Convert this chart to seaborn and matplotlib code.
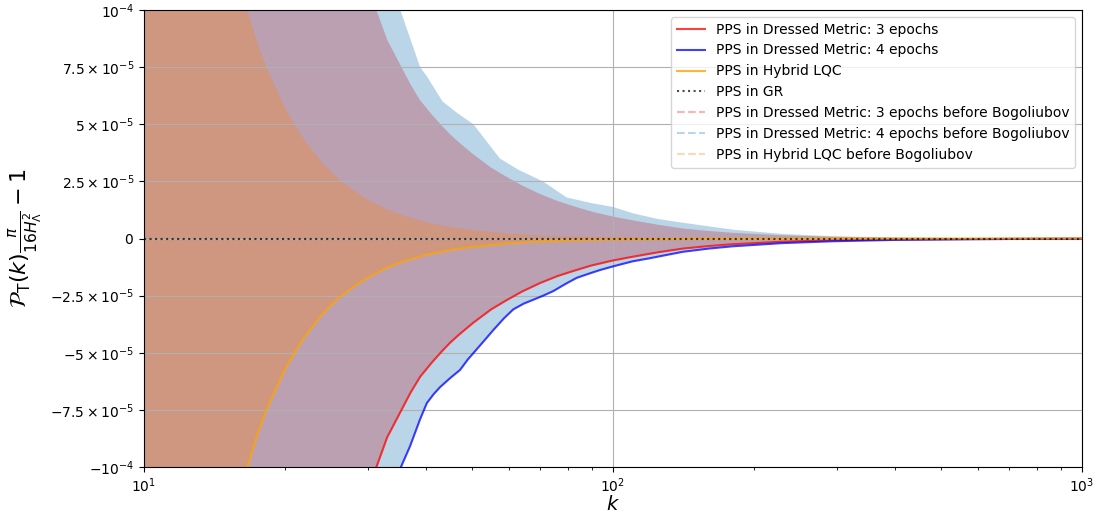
import numpy as np
import matplotlib
matplotlib.use('Agg')
import matplotlib.pyplot as plt
import seaborn as sns

# --- Dados (k, PPS * pi/(16 H^2) - 1) ---
# Hybrid LQC (depois de Bogoliubov)
k_lqc = [10, 12, 14, 16, 16.5, 17, 17.5, 18, 18.5, 19, 20, 21, 22, 24, 26, 28, 30, 33,
         36, 40, 45, 50, 60, 70, 80, 100, 130, 170, 250, 400, 1000]
pps_lqc = [-4.6e-4, -2.65e-4, -1.67e-4, -1.12e-4, -1.02e-4, -9.3e-5, -8.5e-5, -7.8e-5,
           -7.2e-5, -6.7e-5, -5.7e-5, -4.95e-5, -4.3e-5, -3.3e-5, -2.6e-5, -2.1e-5,
           -1.7e-5, -1.27e-5, -9.8e-6, -7.1e-6, -5.0e-6, -3.7e-6, -2.1e-6, -1.3e-6,
           -9e-7, -4.6e-7, -2.1e-7, -9e-8, -3e-8, -4e-9, -1e-9]

# Dressed Metric: 3 epochs
k_dm3 = [10, 20, 28, 30, 31.3, 33, 35.2, 37, 38.8, 41, 43.1, 45, 47, 50.4, 55, 59.3,
         64, 69.9, 76, 82.3, 90, 100, 110, 125, 141, 160, 180, 230, 294, 400, 523,
         700, 1000]
pps_dm3 = [-5e-4, -3e-4, -1.4e-4, -1.12e-4, -1.0e-4, -8.7e-5, -7.6e-5, -6.75e-5,
           -6.05e-5, -5.45e-5, -4.95e-5, -4.55e-5, -4.2e-5, -3.68e-5, -3.1e-5,
           -2.7e-5, -2.32e-5, -1.95e-5, -1.65e-5, -1.42e-5, -1.18e-5, -9.6e-6,
           -8.0e-6, -6.0e-6, -4.4e-6, -3.3e-6, -2.5e-6, -1.4e-6, -8e-7, -4e-7,
           -2.5e-7, -1.2e-7, -5e-8]

# Dressed Metric: 4 epochs
k_dm4 = [10, 25, 32, 35.2, 36.9, 38.8, 40.1, 41.5, 42.8, 45, 47.2, 49, 51.2, 53.5, 55.6,
         58.5, 61.3, 64.5, 67.6, 71, 74.6, 79, 83.7, 88.5, 93.8, 100, 110, 120, 130,
         141, 160, 180, 230, 294, 400, 523, 700, 1000]
pps_dm4 = [-6e-4, -2.5e-4, -1.4e-4, -1.006e-4, -9.1e-5, -7.9e-5, -7.2e-5, -6.8e-5,
           -6.5e-5, -6.1e-5, -5.75e-5, -5.3e-5, -4.85e-5, -4.4e-5, -4.0e-5, -3.5e-5,
           -3.1e-5, -2.85e-5, -2.68e-5, -2.5e-5, -2.3e-5, -2.0e-5, -1.72e-5, -1.55e-5,
           -1.38e-5, -1.22e-5, -1.0e-5, -8.6e-6, -7.2e-6, -5.8e-6, -4.4e-6, -3.4e-6,
           -2.0e-6, -1.2e-6, -6e-7, -4e-7, -2e-7, -1e-7]

# envelope superior das oscilações (4 epochs antes de Bogoliubov)
k_dm4_top = [10, 25, 32, 35.2, 38.8, 40.1, 43.3, 46.5, 50.4, 57.4, 63, 70.9, 79.6, 90,
             100, 110.5, 125, 141, 180, 230, 294, 415, 600, 1000]
top_dm4 = [6e-4, 2.5e-4, 1.4e-4, 1.0e-4, 7.5e-5, 7.1e-5, 6.0e-5, 5.5e-5, 5.0e-5, 3.5e-5,
           3.0e-5, 2.5e-5, 1.8e-5, 1.55e-5, 1.38e-5, 1.1e-5, 8.5e-6, 6.9e-6, 3.9e-6,
           2.0e-6, 1.0e-6, 4e-7, 2e-7, 5e-8]

# GR
k_gr = [10, 1000]
pps_gr = [0, 0]

yticks = [-1e-4, -7.5e-5, -5e-5, -2.5e-5, 0, 2.5e-5, 5e-5, 7.5e-5, 1e-4]
ytick_labels = [r'$-10^{-4}$', r'$-7.5\times10^{-5}$', r'$-5\times10^{-5}$',
                r'$-2.5\times10^{-5}$', r'$0$', r'$2.5\times10^{-5}$',
                r'$5\times10^{-5}$', r'$7.5\times10^{-5}$', r'$10^{-4}$']


def plotar():
    fig, ax = plt.subplots(figsize=(10.96, 5.14), dpi=100)
    fig.subplots_adjust(left=0.1314, right=0.9872, top=0.9805, bottom=0.0914)

    # Curvas antes de Bogoliubov: oscilam muito rápido, aparecem como faixas
    v3 = np.array(pps_dm3)
    ax.fill_between(k_dm3, v3, -v3, color='red', alpha=0.3, linewidth=0)

    # 4 epochs: borda de baixo = curva sólida, borda de cima = envelope lido
    k_all = np.union1d(k_dm4, k_dm4_top)
    lo = np.interp(np.log10(k_all), np.log10(k_dm4), pps_dm4)
    hi = np.interp(np.log10(k_all), np.log10(k_dm4_top), top_dm4)
    ax.fill_between(k_all, lo, hi, color='tab:blue', alpha=0.3, linewidth=0)

    vl = np.array(pps_lqc)
    ax.fill_between(k_lqc, vl, -vl, color='tab:orange', alpha=0.3, linewidth=0)

    sns.lineplot(x=k_dm3, y=pps_dm3, ax=ax, color='red', alpha=0.75, lw=1.5,
                 label='PPS in Dressed Metric: 3 epochs')
    sns.lineplot(x=k_dm4, y=pps_dm4, ax=ax, color='blue', alpha=0.75, lw=1.5,
                 label='PPS in Dressed Metric: 4 epochs')
    sns.lineplot(x=k_lqc, y=pps_lqc, ax=ax, color='orange', alpha=0.8, lw=1.5,
                 label='PPS in Hybrid LQC')
    sns.lineplot(x=k_gr, y=pps_gr, ax=ax, color='black', alpha=0.7, lw=1.5,
                 linestyle=':', label='PPS in GR')

    # entradas da legenda para as curvas tracejadas
    ax.plot([], [], ls='--', color='red', alpha=0.3, lw=1.5,
            label='PPS in Dressed Metric: 3 epochs before Bogoliubov')
    ax.plot([], [], ls='--', color='tab:blue', alpha=0.3, lw=1.5,
            label='PPS in Dressed Metric: 4 epochs before Bogoliubov')
    ax.plot([], [], ls='--', color='tab:orange', alpha=0.3, lw=1.5,
            label='PPS in Hybrid LQC before Bogoliubov')

    ax.set_xscale('log')
    ax.set_xlim(10, 1000)
    ax.set_ylim(-1e-4, 1e-4)
    ax.set_yticks(yticks)
    ax.set_yticklabels(ytick_labels)
    ax.set_xlabel(r'$k$', fontsize=14, labelpad=0)
    ax.set_ylabel(r'$\mathcal{P}_{\mathrm{T}}(k)\frac{\pi}{16H_\Lambda^2}-1$', fontsize=16)
    ax.grid(True)
    ax.legend(loc='upper right', fontsize=10)

    fig.savefig('out.png', dpi=100)


if __name__ == '__main__':
    plotar()
